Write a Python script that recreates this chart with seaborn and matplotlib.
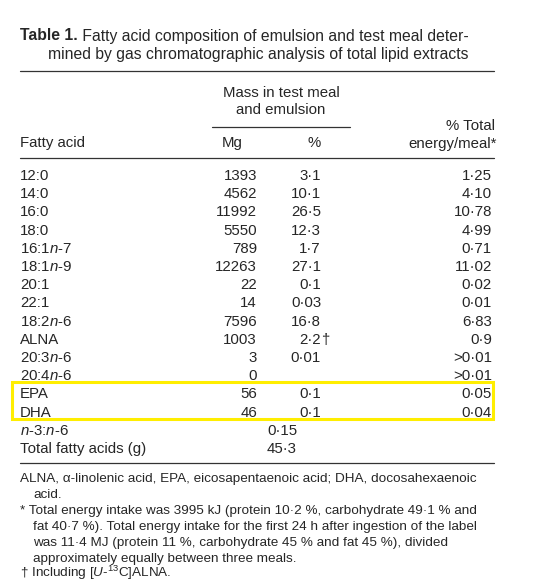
import matplotlib
matplotlib.use("Agg")
import seaborn as sns
from matplotlib import pyplot as plt
from matplotlib.patches import Rectangle

sns.set_theme(style="white")
plt.rcParams['font.family'] = ['Liberation Sans', 'DejaVu Sans']
plt.rcParams['mathtext.fontset'] = 'custom'
plt.rcParams['mathtext.rm'] = 'Liberation Sans'
plt.rcParams['mathtext.it'] = 'Liberation Sans:italic'

fatty_acids = ["12:0", "14:0", "16:0", "18:0", r"16:1$\it{n}$-7", r"18:1$\it{n}$-9",
               "20:1", "22:1", r"18:2$\it{n}$-6", "ALNA", r"20:3$\it{n}$-6", r"20:4$\it{n}$-6",
               "EPA", "DHA"]
mass_mg = ["1393", "4562", "11992", "5550", "789", "12263", "22", "14", "7596",
           "1003", "3", "0", "56", "46"]
mass_pct = ["3·1", "10·1", "26·5", "12·3", "1·7", "27·1", "0·1", "0·03", "16·8",
            "2·2†", "0·01", "", "0·1", "0·1"]
energy_pct = ["1·25", "4·10", "10·78", "4·99", "0·71", "11·02", "0·02", "0·01", "6·83",
              "0·9", ">0·01", ">0·01", "0·05", "0·04"]
summary_labels = [r"$\it{n}$-3:$\it{n}$-6", "Total fatty acids (g)"]
summary_values = ["0·15", "45·3"]

fig = plt.figure(figsize=(5.49, 5.82), dpi=100)
ax = fig.add_axes([0, 0, 1, 1])
ax.set_xlim(0, 549)
ax.set_ylim(582, 0)
ax.axis("off")

fs = 10.8
t = ax.text(20, 36, "Table 1.", fontsize=11.3, fontweight="bold", ha="left", va="center")
fig.canvas.draw()
bb = t.get_window_extent()
x_after = ax.transData.inverted().transform((bb.x1, 0))[0]
ax.text(x_after, 36, " Fatty acid composition of emulsion and test meal deter-",
        fontsize=11.3, ha="left", va="center")
ax.text(258, 54, "mined by gas chromatographic analysis of total lipid extracts",
        fontsize=11.3, ha="center", va="center")

# rules
for y, x0, x1 in [(71, 20, 494), (127, 212, 350), (158, 20, 494), (463, 20, 494)]:
    ax.plot([x0, x1], [y, y], color="#333333", lw=0.9)

ax.text(281, 93, "Mass in test meal", fontsize=fs, ha="center", va="center")
ax.text(281, 110, "and emulsion", fontsize=fs, ha="center", va="center")
ax.text(20, 143, "Fatty acid", fontsize=fs, ha="left", va="center")
ax.text(232, 143, "Mg", fontsize=fs, ha="center", va="center")
ax.text(321, 143, "%", fontsize=fs, ha="right", va="center")
ax.text(495, 126, "% Total", fontsize=fs, ha="right", va="center")
ax.text(497, 144, "energy/meal*", fontsize=fs, ha="right", va="center")

y0, dy = 176, 18.2
for i, name in enumerate(fatty_acids):
    y = y0 + i * dy
    ax.text(20, y, name, fontsize=fs, ha="left", va="center")
    ax.text(257, y, mass_mg[i], fontsize=fs, ha="right", va="center")
    p = mass_pct[i]
    if p.endswith("†"):
        ax.text(321, y, p[:-1], fontsize=fs, ha="right", va="center")
        ax.text(321, y, "†", fontsize=fs, ha="left", va="center")
    elif p:
        ax.text(321, y, p, fontsize=fs, ha="right", va="center")
    ax.text(492, y, energy_pct[i], fontsize=fs, ha="right", va="center")

for j, lab in enumerate(summary_labels):
    y = y0 + (len(fatty_acids) + j) * dy
    ax.text(20, y, lab, fontsize=fs, ha="left", va="center")
    ax.text(282, y, summary_values[j], fontsize=fs, ha="center", va="center")

ax.add_patch(Rectangle((12, 382), 481, 37, fill=False, edgecolor="#ffee00", lw=2.2))

notes = [
    (20, 479, "ALNA, α-linolenic acid, EPA, eicosapentaenoic acid; DHA, docosahexaenoic"),
    (33, 495, "acid."),
    (20, 511, "* Total energy intake was 3995 kJ (protein 10·2 %, carbohydrate 49·1 % and"),
    (33, 527, "fat 40·7 %). Total energy intake for the first 24 h after ingestion of the label"),
    (33, 543, "was 11·4 MJ (protein 11 %, carbohydrate 45 % and fat 45 %), divided"),
    (33, 559, "approximately equally between three meals."),
    (20, 573, r"† Including [$\it{U}$-$^{13}$C]ALNA."),
]
for x, y, t in notes:
    ax.text(x, y, t, fontsize=9.7, ha="left", va="center")

fig.savefig("out.png", dpi=100, facecolor="white")
